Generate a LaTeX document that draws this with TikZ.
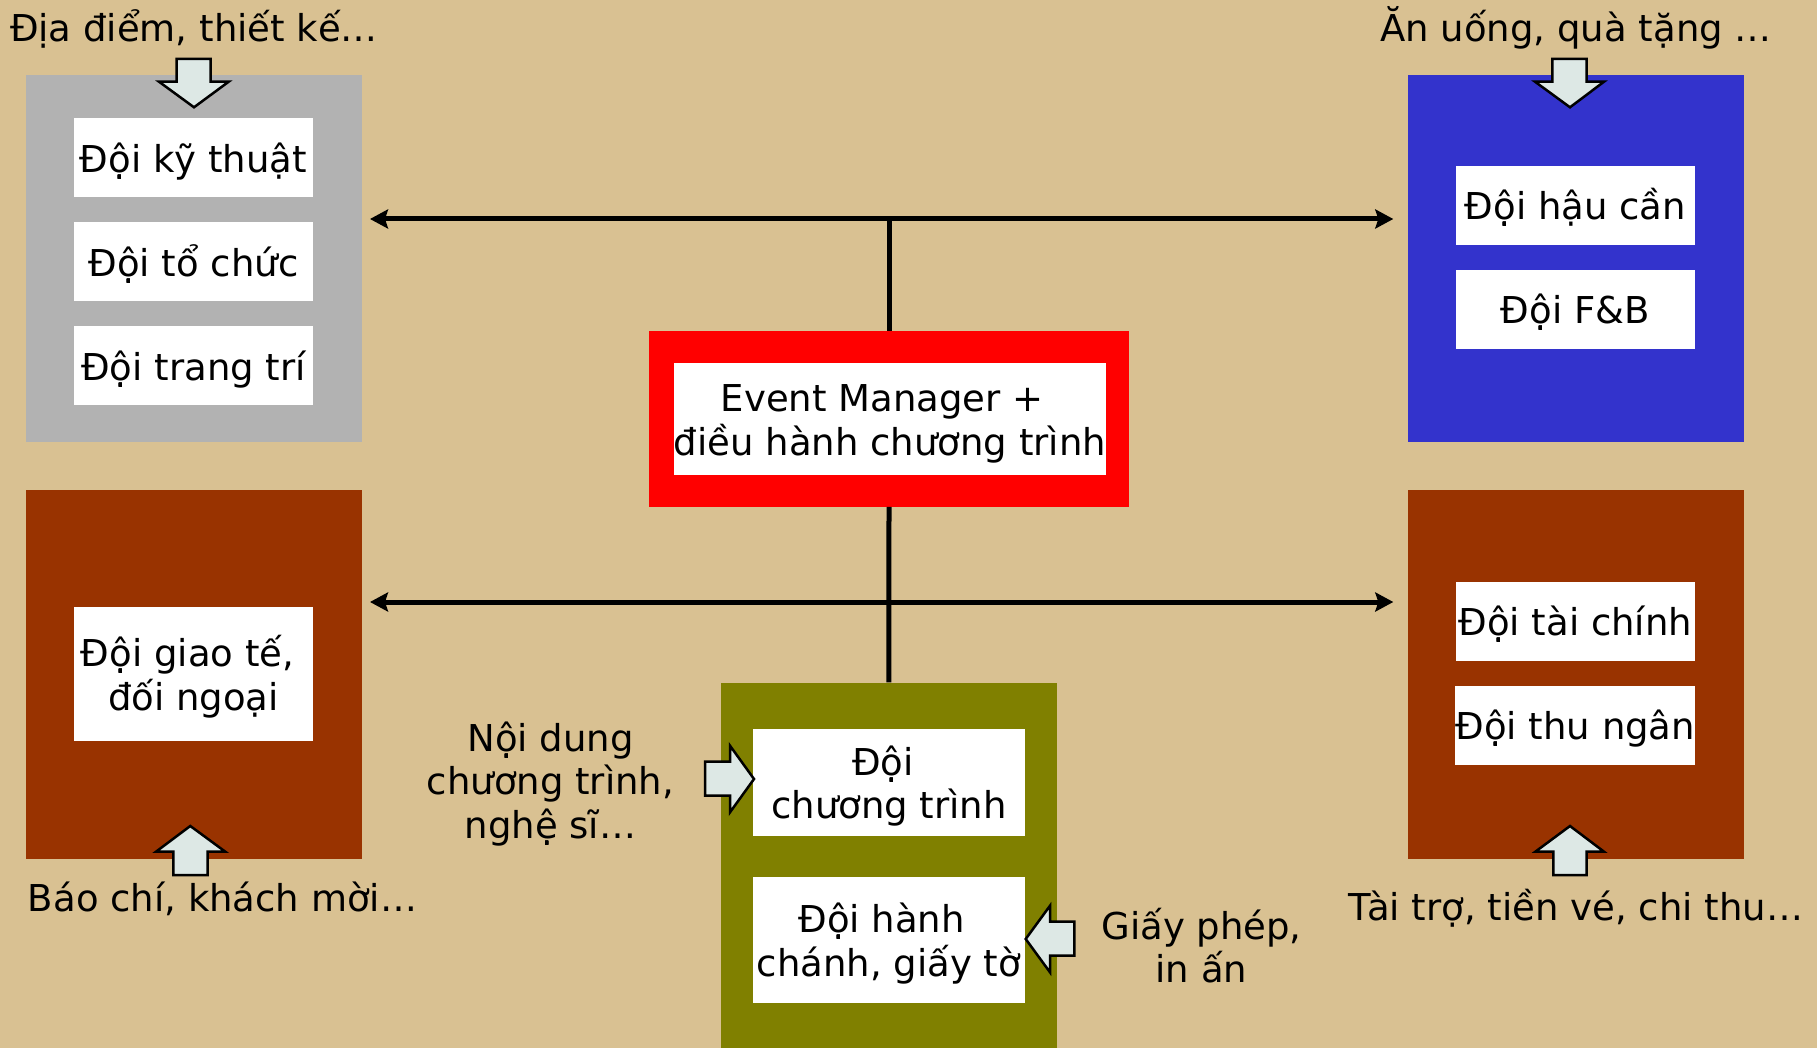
\documentclass[tikz,border=0pt]{standalone}
\usepackage{fontspec}
\setmainfont{DejaVu Sans}
\usetikzlibrary{arrows.meta}

\definecolor{bgtan}{RGB}{217,193,146}
\definecolor{panelgray}{RGB}{178,178,178}
\definecolor{panelblue}{RGB}{51,51,204}
\definecolor{panelbrown}{RGB}{153,51,0}
\definecolor{panelolive}{RGB}{128,128,0}
\definecolor{framered}{RGB}{255,0,0}
\definecolor{inputfill}{RGB}{221,232,229}

\newcommand{\diagfont}{\fontsize{37}{43.5}\selectfont}
% top strut for the first line of a multi-line team box
\newcommand{\firstline}{\rule{0pt}{41pt}}

\tikzset{linktip/.tip={Stealth[length=18pt, width=19pt, inset=3pt]}}

\begin{document}
\begin{tikzpicture}[x=1pt,y=-1pt,
  panel/.style={fill=#1, draw=none, inner sep=0pt, minimum width=335.5pt, minimum height=366.5pt},
  % fixed top and bottom struts keep the text block at the same place in every box
  team/.style={fill=white, draw=none, inner sep=0pt, align=center, font=\diagfont,
    minimum width=239pt, minimum height=79pt,
    execute at begin node={\rule{0pt}{41pt}},
    execute at end node={\rule[-12pt]{0pt}{12pt}}},
  lbl/.style={inner sep=0pt, align=center, font=\diagfont},
  link/.style={draw=black, line width=5pt},
  inputarrow/.style={fill=inputfill, draw=black, line width=2.5pt, line join=miter}]

% background
\fill[bgtan] (0,0) rectangle (1817,1048);
\useasboundingbox (0,0) rectangle (1817,1048);

% coloured department panels
\node[panel=panelgray] (tech) at (193.75,258.25) {};
\node[panel=panelblue] (logi) at (1576,258.25) {};
\node[panel=panelbrown, minimum height=369pt] (pr) at (193.75,674.5) {};
\node[panel=panelbrown, minimum height=369pt] (fin) at (1576,674.5) {};
\node[panel=panelolive, minimum width=335.7pt, minimum height=365.5pt] (prog) at (888.85,865.25) {};
\node[fill=framered, inner sep=0pt, minimum width=480pt, minimum height=175.7pt] (mgrframe) at (889,418.85) {};

% teams
\node[team] (t1) at (193.5,157.8) {Đội kỹ thuật};
\node[team] (t2) at (193.5,262) {Đội tổ chức};
\node[team] (t3) at (193.5,365.7) {Đội trang trí};
\node[team, minimum width=239.5pt] (l1) at (1575.25,205.1) {Đội hậu cần};
\node[team, minimum width=239.5pt] (l2) at (1575.25,309.4) {Đội F\&B};
\node[team, minimum height=133.5pt] (p1) at (193.5,673.75) {\firstline Đội giao tế,\hspace*{0.32em}\\đối ngoại};
\node[team, minimum width=239.5pt] (f1) at (1575.25,621.1) {Đội tài chính};
\node[team, minimum width=239.5pt] (f2) at (1575.25,725.4) {Đội thu ngân};
\node[team, minimum width=272pt, minimum height=106.7pt] (g1) at (889,782.35) {\firstline Đội\hspace*{0.32em}\\chương trình};
\node[team, minimum width=272pt, minimum height=125.7pt] (g2) at (889,939.85) {\firstline Đội hành\hspace*{0.4em}\\chánh, giấy tờ};
\node[team, minimum width=431.7pt, minimum height=112pt] (mgr) at (889.85,419) {\firstline Event Manager +\hspace*{0.42em}\\điều hành chương trình};

% communication lines
\coordinate (topL) at (370,219);
\coordinate (topR) at (1393.3,219);
\coordinate (botL) at (370,602);
\coordinate (botR) at (1393.3,602);
\draw[link] (mgrframe.north) -- (mgrframe.north |- topL);
\draw[link] (mgrframe.south) -- (prog.north);
\draw[link, linktip-linktip] (topL) -- (topR);
\draw[link, linktip-linktip] (botL) -- (botR);

% input arrows
\draw[inputarrow] (176.7,59) -- (210.7,59) -- (210.7,81.7) -- (228.7,81.7) -- (194,107.3) -- (159,81.7) -- (176.7,81.7) -- cycle;
\draw[inputarrow] (1552.3,59) -- (1586.7,59) -- (1586.7,81.7) -- (1604,81.7) -- (1570,107.3) -- (1535,81.7) -- (1552.3,81.7) -- cycle;
\draw[inputarrow] (173.3,875) -- (207.7,875) -- (207.7,851.7) -- (225.3,851.7) -- (190.3,826) -- (156,851.7) -- (173.3,851.7) -- cycle;
\draw[inputarrow] (1553.3,875) -- (1586.7,875) -- (1586.7,851.7) -- (1604,851.7) -- (1570,826) -- (1535.3,851.7) -- (1553.3,851.7) -- cycle;
\draw[inputarrow] (705,761.7) -- (730,761.7) -- (730,745.7) -- (754,779) -- (730,812.3) -- (730,795.7) -- (705,795.7) -- cycle;
\draw[inputarrow] (1074.3,921.7) -- (1050,921.7) -- (1050,905.7) -- (1025.7,939) -- (1050,972.3) -- (1050,955.7) -- (1074.3,955.7) -- cycle;

% input labels
\node[lbl, anchor=base] (inTL) at (194,41.7) {Địa điểm, thiết kế…};
\node[lbl, anchor=base] (inTR) at (1576,41.7) {Ăn uống, quà tặng …};
\node[lbl, anchor=base] (inBL) at (222.5,911.7) {Báo chí, khách mời…};
\node[lbl, anchor=base] (inBR) at (1576,920.7) {Tài trợ, tiền vé, chi thu…};
\node[lbl, anchor=base] (inProg) at (550.5,838.3) {Nội dung\\chương trình,\\nghệ sĩ…};
\node[lbl, anchor=base] (inAdm) at (1201.5,982.7) {Giấy phép,\\in ấn};
\end{tikzpicture}
\end{document}
